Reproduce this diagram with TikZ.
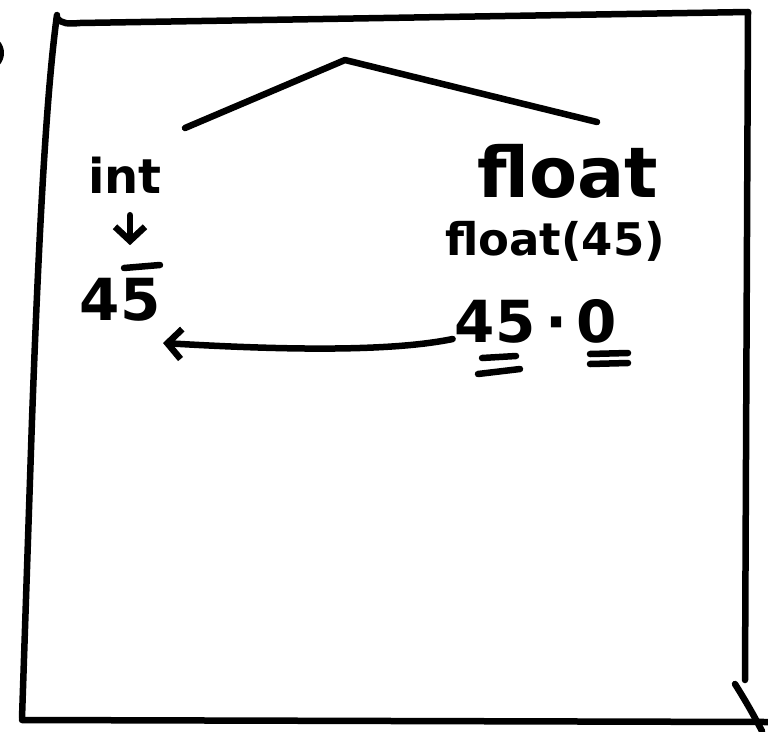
\documentclass[tikz,border=0pt]{standalone}
\usepackage{fontspec}
\setmainfont{DejaVu Sans}
\usetikzlibrary{arrows.meta}
\begin{document}
\begin{tikzpicture}[x=1pt,y=-1pt,
  pen/.style={line width=6.5pt,line cap=round,line join=round},
  hand/.style={inner sep=0pt,anchor=base},
  barb/.style={-{Straight Barb[length=14pt,width=30pt,line width=6.5pt]}}]
\useasboundingbox (0,0) rectangle (768,731);
% frame
\draw[pen] (57,15) .. controls (48,80) and (40,200) .. (32,420) -- (22,718);
\draw[pen] (57,18) .. controls (62,24) and (68,24) .. (80,23) -- (748,12);
\draw[pen] (748,12) -- (745,680);
\draw[pen] (735,684) .. controls (745,700) and (752,712) .. (762,731);
\draw[pen] (22,720) -- (768,722);
\draw[pen,line width=5pt] (-3,42) .. controls (3,48) and (3,58) .. (-3,64);
% tree
\coordinate (top) at (345,60);
\coordinate (lft) at (185,128);
\coordinate (rgt) at (597,122);
\draw[pen] (lft) -- (top) -- (rgt);
% texts
\node[hand,font=\fontsize{48}{48}\selectfont\bfseries] (int) at (125,193) {int};
\node[hand,font=\fontsize{70}{70}\selectfont\bfseries] (flt) at (568,197) {float};
\node[hand,font=\fontsize{45}{45}\selectfont\bfseries] (fcall) at (555,255) {float(45)};
\node[hand,font=\fontsize{58}{58}\selectfont\bfseries] (i45) at (120,320) {45};
\node[hand,font=\fontsize{58}{58}\selectfont\bfseries] (f45) at (536,342) {45\,·\,0};
% overbar on 5
\draw[pen] (124,268) -- (160,265);
% underlines
\draw[pen] (482,358) -- (516,356);
\draw[pen] (478,374) -- (520,369);
\draw[pen] (590,354) -- (628,353);
\draw[pen] (590,364) -- (628,363);
% arrows
\draw[pen,barb] (int.south) ++(5,22) -- ++(0,30);
\draw[pen,barb] (f45.south west) ++(-2,-4) .. controls (380,354) and (250,348) .. (163,343);
\end{tikzpicture}
\end{document}
